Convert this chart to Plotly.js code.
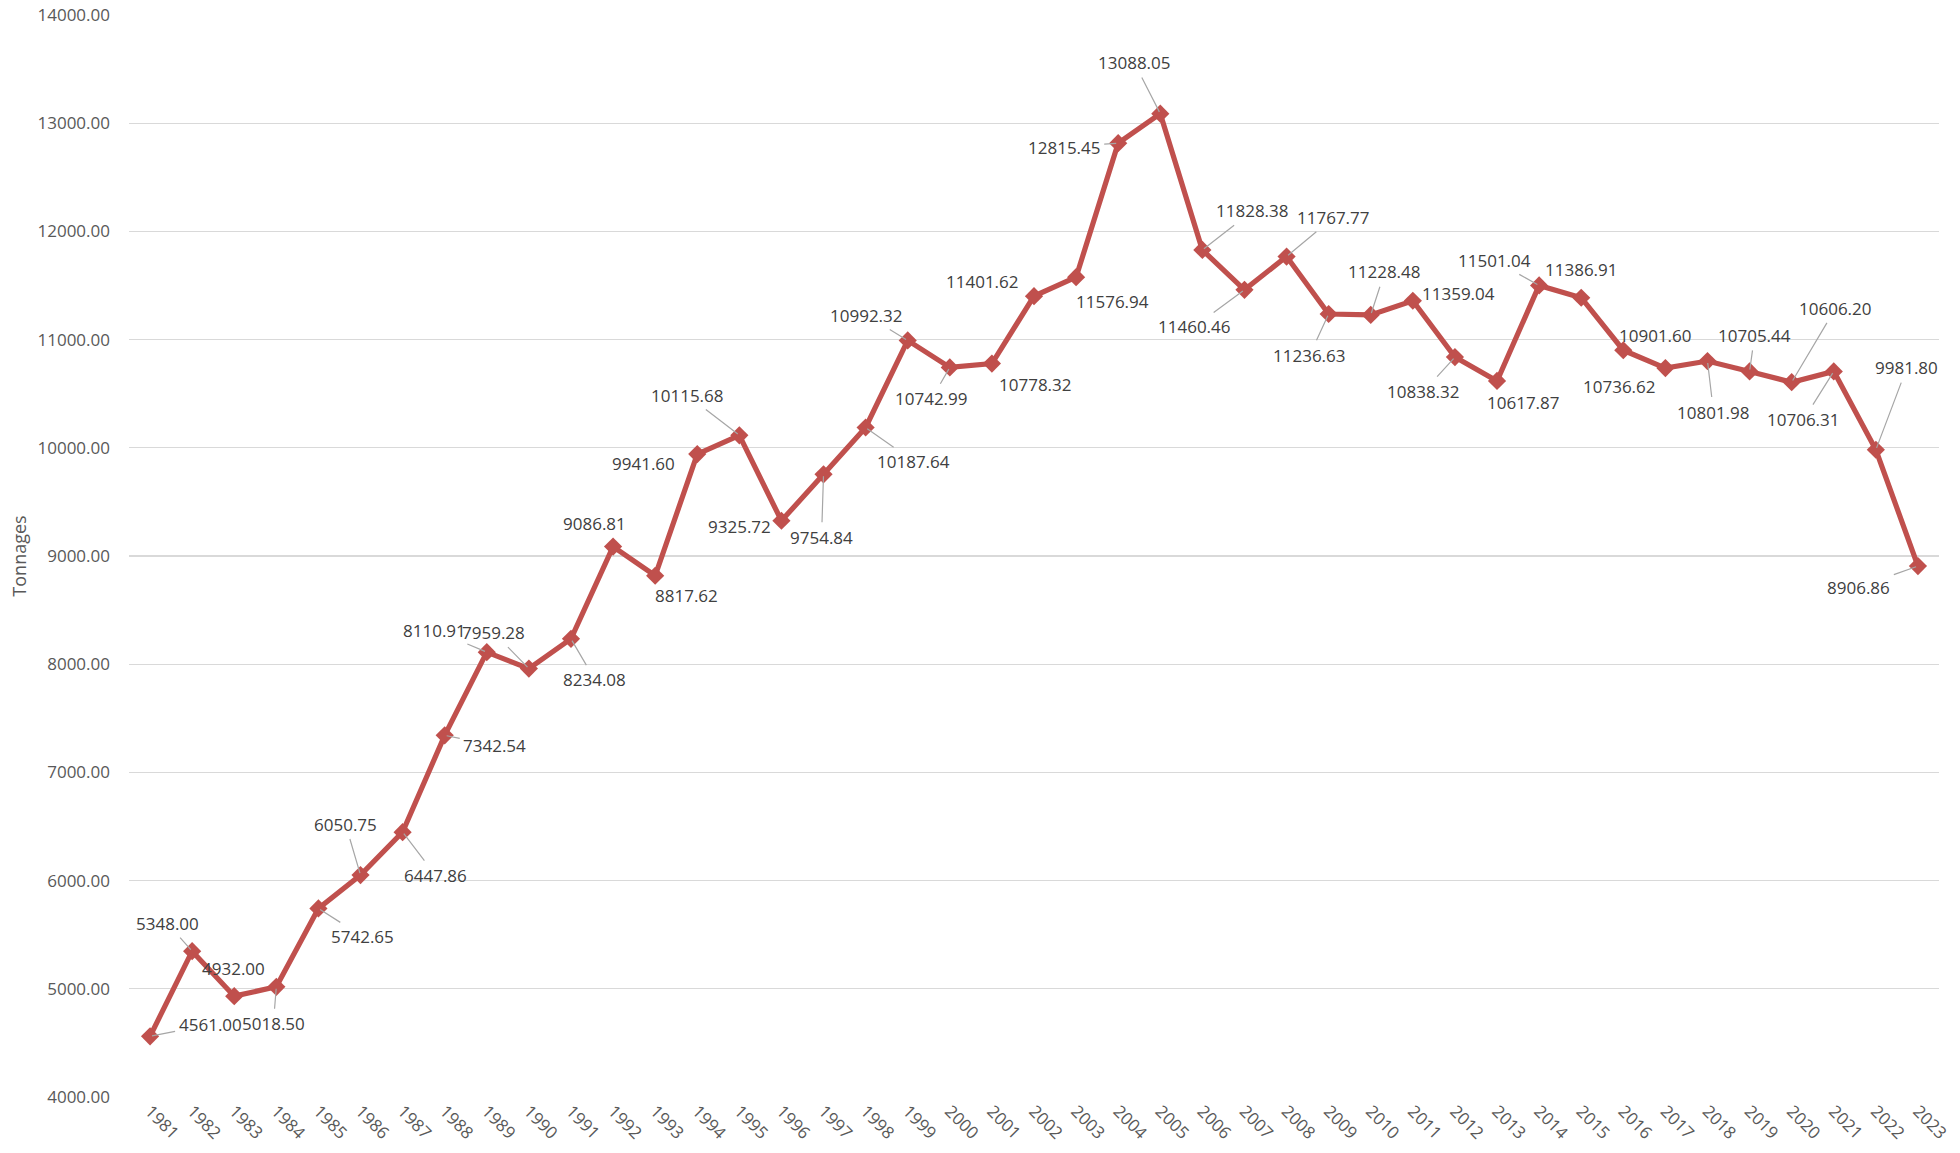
<!DOCTYPE html>
<html>
<head>
<meta charset="utf-8">
<script src="https://cdn.plot.ly/plotly-3.0.1.min.js"></script>
<style>html,body{margin:0;padding:0;background:#fff;}#chart{width:1960px;height:1153px;}</style>
</head>
<body>
<div id="chart"></div>
<script>
const years = ["1981","1982","1983","1984","1985","1986","1987","1988","1989","1990","1991","1992","1993","1994","1995","1996","1997","1998","1999","2000","2001","2002","2003","2004","2005","2006","2007","2008","2009","2010","2011","2012","2013","2014","2015","2016","2017","2018","2019","2020","2021","2022","2023"];
const tonnages = [4561.00,5348.00,4932.00,5018.50,5742.65,6050.75,6447.86,7342.54,8110.91,7959.28,8234.08,9086.81,8817.62,9941.60,10115.68,9325.72,9754.84,10187.64,10992.32,10742.99,10778.32,11401.62,11576.94,12815.45,13088.05,11828.38,11460.46,11767.77,11236.63,11228.48,11359.04,10838.32,10617.87,11501.04,11386.91,10901.60,10736.62,10801.98,10705.44,10606.20,10706.31,9981.80,8906.86];
const yTicks = [4000,5000,6000,7000,8000,9000,10000,11000,12000,13000,14000];
const yTitle = "Tonnages";

// label placement (pixel offsets of label centre from its point) and leader-line flags
const labelOffsets = [[60,-12],[-25,-28],[-1,-28],[-3,37],[44,28],[-15,-51],[33,43],[50,10],[-52,-22],[-35,-36],[24,41],[-19,-23],[31,20],[-54,9],[-52,-40],[-42,6],[-2,63],[48,34],[-41,-25],[-18,31],[44,21],[-52,-15],[36,24],[-54,4],[-26,-51],[50,-39],[-50,37],[47,-39],[-19,41],[14,-43],[46,-7],[-31,34],[26,22],[-45,-25],[0,-28],[32,-15],[-46,18],[6,51],[5,-36],[44,-74],[-30,48],[31,-82],[-59,21]];
const leader = [1,1,0,1,1,1,1,1,1,1,1,0,0,0,1,0,1,1,1,1,0,0,0,1,1,1,1,1,1,1,0,1,0,1,0,0,0,1,1,1,1,1,1];

const FONT = "Open Sans, Noto Sans, sans-serif";
const annotations = years.map((yr, i) => {
  const off = labelOffsets[i];
  const base = {
    x: i, y: tonnages[i], xref: "x", yref: "y",
    text: tonnages[i].toFixed(2),
    font: {family: FONT, size: 17, color: "#404040"},
  };
  if (leader[i]) {
    return Object.assign(base, {showarrow: true, ax: off[0], ay: off[1], arrowhead: 0, arrowwidth: 1.2, arrowcolor: "#a6a6a6", standoff: 2, startstandoff: 2});
  }
  return Object.assign(base, {showarrow: false, xshift: off[0], yshift: -off[1]});
});

const trace = {
  type: "scatter", mode: "lines+markers",
  x: years, y: tonnages,
  line: {color: "#C0504D", width: 5.2},
  marker: {symbol: "diamond", size: 14, color: "#C0504D"},
  hoverinfo: "x+y"
};

const layout = {
  width: 1960, height: 1153,
  margin: {l: 129, r: 21, t: 15, b: 56},
  paper_bgcolor: "#ffffff", plot_bgcolor: "#ffffff",
  showlegend: false,
  xaxis: {
    type: "category", range: [-0.5, years.length - 0.5],
    tickangle: 45, tickfont: {family: FONT, size: 17, color: "#595959"},
    showgrid: false, zeroline: false, showline: false, ticks: "", automargin: false
  },
  yaxis: {
    range: [4000, 14000], tickvals: yTicks, ticktext: yTicks.map(v => v.toFixed(2)),
    tickfont: {family: FONT, size: 17, color: "#595959"},
    showgrid: true, gridcolor: "#d9d9d9", gridwidth: 1.3, zeroline: false, showline: false,
    ticks: "", ticklabelstandoff: 18, automargin: false,
    title: {text: yTitle, font: {family: FONT, size: 18, color: "#595959"}, standoff: 6}
  },
  annotations: annotations
};

Plotly.newPlot("chart", [trace], layout, {displayModeBar: false, staticPlot: true});
</script>
</body>
</html>
